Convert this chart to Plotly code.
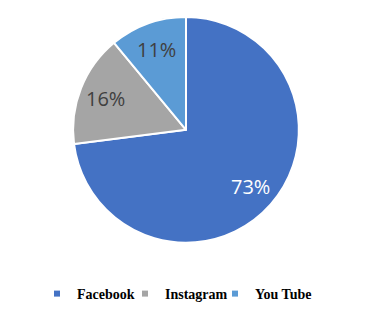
import math
import plotly.graph_objects as go

labels = ["Facebook", "Instagram", "You Tube"]
values = [73, 16, 11]
colors = ["#4472C4", "#A5A5A5", "#5B9BD5"]
text_colors = ["#FFFFFF", "#404040", "#404040"]

# page has an 8px body margin; figure sized to fit the window
W, H = 362, 302
cx, cy, r = 178, 123, 114
legend_left = [29, 117, 207]

fig = go.Figure()
fig.add_trace(go.Pie(
    labels=labels, values=values, sort=False, direction="clockwise", rotation=0,
    marker=dict(colors=colors, line=dict(color="white", width=2)),
    textinfo="none",
    domain=dict(x=[(cx - r) / W, (cx + r) / W], y=[1 - (cy + r) / H, 1 - (cy - r) / H]),
    showlegend=False, hoverinfo="label+percent",
))

# percent labels placed along each slice's mid-angle
total = sum(values)
cum = 0
for v, tc in zip(values, text_colors):
    mid = (cum + v / 2) / total * 2 * math.pi
    cum += v
    rr = 0.76 * r
    px = cx + rr * math.sin(mid)
    py = cy - rr * math.cos(mid)
    fig.add_annotation(x=px / W, y=1 - py / H, xref="paper", yref="paper",
                       text=f"{round(v / total * 100)}%", showarrow=False,
                       font=dict(family="Open Sans", size=20, color=tc),
                       xanchor="center", yanchor="middle")

legend_style = dict(orientation="h", xanchor="left", y=1 - 289 / H, yanchor="middle",
                    font=dict(family="Liberation Serif", size=14, color="#000000", weight="bold"),
                    itemsizing="trace", itemwidth=30, bgcolor="rgba(0,0,0,0)")
layout_legends = {}
for i, (lab, col, lx) in enumerate(zip(labels, colors, legend_left)):
    key = "legend" if i == 0 else f"legend{i + 1}"
    fig.add_trace(go.Scatter(x=[None], y=[None], mode="markers", name=lab, legend=key,
                             marker=dict(symbol="square", size=6, color=col)))
    layout_legends[key] = dict(legend_style, x=lx / W)

fig.update_layout(
    width=W, height=H, margin=dict(l=0, r=0, t=0, b=0),
    paper_bgcolor="white", plot_bgcolor="white",
    xaxis=dict(visible=False), yaxis=dict(visible=False),
    showlegend=True,
    **layout_legends,
)
fig.write_html("out.html")
